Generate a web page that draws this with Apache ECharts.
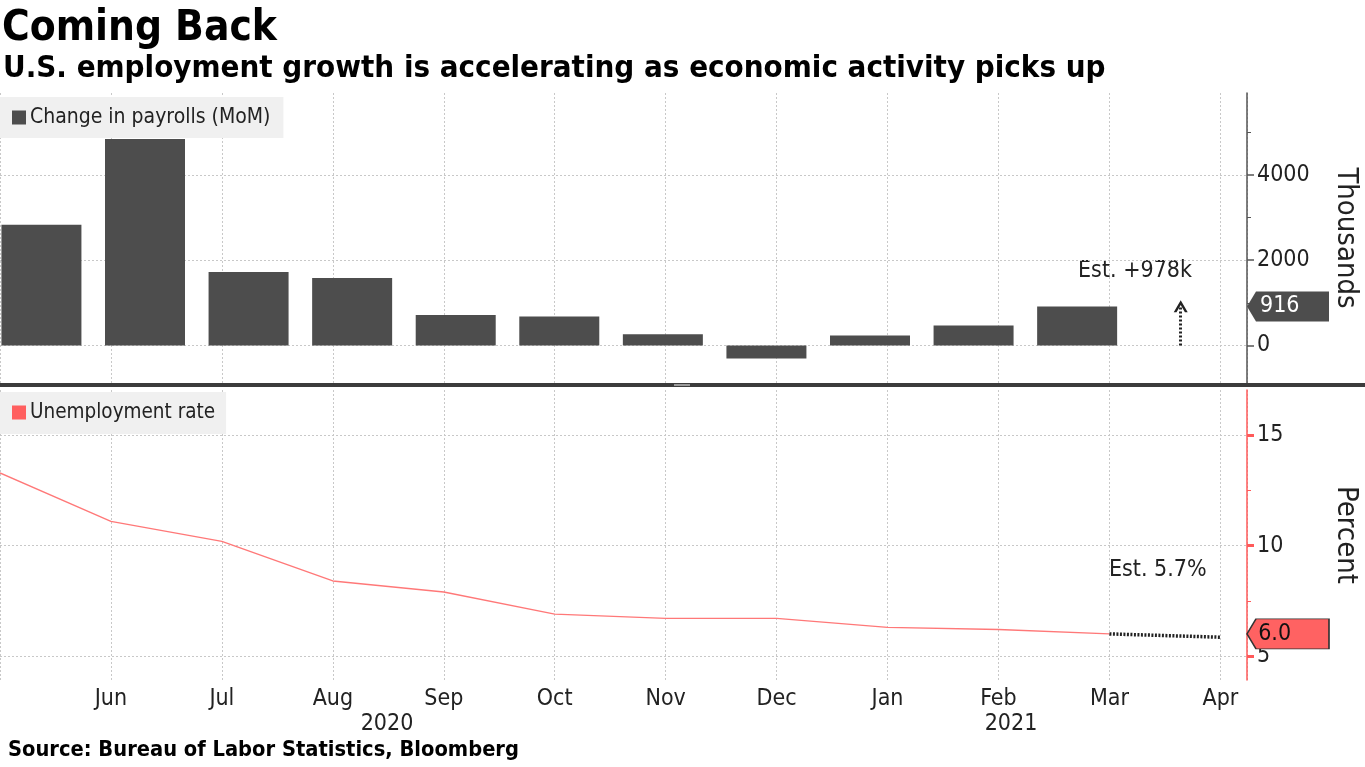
<!DOCTYPE html>
<html><head><meta charset="utf-8">
<script src="https://cdn.jsdelivr.net/npm/echarts@6/dist/echarts.min.js"></script>
<style>html,body{margin:0;padding:0;background:#fff}#c{width:1365px;height:767px}</style>
</head><body><div id="c"></div>
<script>
// ---- data ----
const MONTHS = ['May','Jun','Jul','Aug','Sep','Oct','Nov','Dec','Jan','Feb','Mar','Apr'];
const PAYROLLS = [2833, 4846, 1726, 1583, 716, 680, 264, -306, 233, 468, 916];
const PAYROLL_EST = 978;
const PAYROLL_ARROW_TOP = 920;
const UNEMPLOYMENT = [13.3, 11.1, 10.2, 8.4, 7.9, 6.9, 6.7, 6.7, 6.3, 6.2, 6.0];
const UNEMP_EST_PATH = 5.85;
const UNEMP_EST = 5.7;
const PAYROLL_TICKS = [0, 2000, 4000];
const PAYROLL_MINOR = [1000, 3000, 5000];
const RATE_TICKS = [5, 10, 15];
const RATE_MINOR = [7.5, 12.5];
const YEARS = ['2020', '2021'];

// ---- layout constants ----
const FONT = "'DejaVu Sans Condensed', 'DejaVu Sans', sans-serif";
const BOLD = "'DejaVu Sans Condensed', 'DejaVu Sans', sans-serif";
const BAR_MIN = -0.40, BAR_MAX = 11.64;
const M_MAX = 11.24;
const P_MIN = -880, P_MAX = 5923;
const R_MIN = 3.91, R_MAX = 17.06;
const GRID_LINE = {color: '#c8c8c8', type: [2, 2], width: 1};
const TAG_PATH = 'path://M0,15 L9,0 L82,0 L82,30 L9,30 Z';
const ARROW_PATH = 'path://M0,10 L5,0 L10,10 L8,10 L5,4 L2,10 Z';

const lastIdx = PAYROLLS.length - 1;
const chart = echarts.init(document.getElementById('c'), null, {renderer: 'canvas'});

function yAxisBase(grid, min, max) {
  return {gridIndex: grid, type: 'value', position: 'right', min: min, max: max, splitLine: {show: false}};
}

const option = {
  animation: false,
  backgroundColor: '#fff',
  textStyle: {fontFamily: FONT},
  grid: [
    {left: 0, right: 118, top: 93, height: 290, outerBoundsMode: 'none', containLabel: false},
    {left: 0, right: 118, top: 390, height: 290, outerBoundsMode: 'none', containLabel: false}
  ],
  legend: [
    {data: ['Change in payrolls (MoM)'], left: 0, top: 97, icon: 'rect', itemWidth: 14, itemHeight: 14, itemGap: 4,
     backgroundColor: '#f0f0f0', padding: [10, 13, 10, 12], selectedMode: false,
     textStyle: {fontSize: 21, color: '#222', fontFamily: FONT, lineHeight: 20, padding: [0, 0, 0, -1]}},
    {data: ['Unemployment rate'], left: 0, top: 392, icon: 'rect', itemWidth: 14, itemHeight: 14, itemGap: 4,
     backgroundColor: '#f0f0f0', padding: [10, 11, 11, 12], selectedMode: false,
     textStyle: {fontSize: 20.5, color: '#222', fontFamily: FONT, lineHeight: 20, padding: [0, 0, 0, -1]}}
  ],
  xAxis: [
    {gridIndex: 0, type: 'value', min: BAR_MIN, max: BAR_MAX, show: false},
    {gridIndex: 0, type: 'value', min: 0, max: M_MAX, interval: 1,
     axisLine: {show: false, onZero: false}, axisTick: {show: false}, axisLabel: {show: false},
     splitLine: {show: true, lineStyle: GRID_LINE}},
    {gridIndex: 1, type: 'value', min: 0, max: M_MAX, interval: 1,
     axisLine: {show: false, onZero: false}, axisTick: {show: false},
     axisLabel: {fontSize: 23, color: '#222', margin: 8, fontFamily: FONT,
       formatter: v => (Number.isInteger(v) && v > 0 && v < MONTHS.length) ? MONTHS[v] : ''},
     splitLine: {show: true, lineStyle: GRID_LINE}}
  ],
  yAxis: [
    Object.assign(yAxisBase(0, P_MIN, P_MAX), {
     axisLine: {show: true, onZero: false, lineStyle: {color: '#555', width: 1.5}},
     axisTick: {show: true, customValues: PAYROLL_TICKS, length: 7, lineStyle: {color: '#555', width: 1.5}},
     axisLabel: {customValues: PAYROLL_TICKS, fontSize: 23, color: '#222', margin: 10, fontFamily: FONT,
       formatter: v => String(v)},
     name: 'Thousands', nameLocation: 'middle', nameRotate: -90, nameGap: 84,
     nameTextStyle: {fontSize: 29, color: '#222', fontFamily: FONT}}),
    Object.assign(yAxisBase(0, P_MIN, P_MAX), {
     axisLine: {show: false, onZero: false},
     axisTick: {show: true, customValues: PAYROLL_MINOR, length: 4, lineStyle: {color: '#555', width: 1}},
     axisLabel: {show: false}}),
    Object.assign(yAxisBase(1, R_MIN, R_MAX), {
     axisLine: {show: true, onZero: false, lineStyle: {color: '#ff5a5a', width: 1.5}},
     axisTick: {show: true, customValues: RATE_TICKS, length: 7, lineStyle: {color: '#ff5a5a', width: 3}},
     axisLabel: {customValues: RATE_TICKS, fontSize: 23, color: '#222', margin: 10, fontFamily: FONT,
       formatter: v => String(v)},
     name: 'Percent', nameLocation: 'middle', nameRotate: -90, nameGap: 84,
     nameTextStyle: {fontSize: 29, color: '#222', fontFamily: FONT}}),
    Object.assign(yAxisBase(1, R_MIN, R_MAX), {
     axisLine: {show: false, onZero: false},
     axisTick: {show: true, customValues: RATE_MINOR, length: 4, lineStyle: {color: '#ff5a5a', width: 1}},
     axisLabel: {show: false}})
  ],
  series: [
    {
      name: 'Change in payrolls (MoM)', type: 'bar', xAxisIndex: 0, yAxisIndex: 0,
      data: PAYROLLS.map((v, i) => [i, v]), barWidth: 80, clip: false,
      itemStyle: {color: '#4d4d4d'}, z: 3,
      markLine: {silent: true, symbol: ['none', 'none'], label: {show: false},
        lineStyle: GRID_LINE, z: 1,
        data: PAYROLL_TICKS.map(v => ({yAxis: v}))},
      markPoint: {silent: true, symbol: TAG_PATH, symbolSize: [82, 30], symbolKeepAspect: false,
        symbolOffset: [41, 0], itemStyle: {color: '#4d4d4d'},
        label: {show: true, position: [13, 15], align: 'left', verticalAlign: 'middle',
          color: '#fff', fontSize: 23, fontFamily: FONT, formatter: p => String(p.value)},
        data: [{coord: [BAR_MAX, PAYROLLS[lastIdx]], value: PAYROLLS[lastIdx]}]}
    },
    {
      name: 'est-arrow', type: 'line', xAxisIndex: 0, yAxisIndex: 0, data: [], clip: false,
      markLine: {silent: true, symbol: ['none', ARROW_PATH], symbolSize: [14, 12],
        label: {show: false}, lineStyle: {color: '#222', type: [2, 2], width: 3},
        data: [[{coord: [PAYROLLS.length, 0]}, {coord: [PAYROLLS.length, PAYROLL_ARROW_TOP]}]]}
    },
    {
      name: 'Unemployment rate', type: 'line', xAxisIndex: 2, yAxisIndex: 2, clip: false,
      data: UNEMPLOYMENT.map((v, i) => [i, v]), showSymbol: false, symbol: 'none',
      lineStyle: {color: '#ff7878', width: 1.3}, itemStyle: {color: '#ff5f5f'}, z: 3,
      markLine: {silent: true, symbol: ['none', 'none'], label: {show: false},
        lineStyle: GRID_LINE, z: 1,
        data: RATE_TICKS.map(v => ({yAxis: v}))},
      markPoint: {silent: true, symbol: TAG_PATH, symbolSize: [82, 30], symbolKeepAspect: false,
        symbolOffset: [41, 0], itemStyle: {color: '#ff6262', borderColor: '#333', borderWidth: 1},
        label: {show: true, position: [12, 15], align: 'left', verticalAlign: 'middle',
          color: '#111', fontSize: 23, fontFamily: FONT, formatter: p => p.value.toFixed(1)},
        data: [{coord: [M_MAX, UNEMPLOYMENT[lastIdx]], value: UNEMPLOYMENT[lastIdx]}]}
    },
    {
      name: 'unemp-est', type: 'line', xAxisIndex: 2, yAxisIndex: 2,
      data: [[lastIdx, UNEMPLOYMENT[lastIdx]], [lastIdx + 1, UNEMP_EST_PATH]],
      showSymbol: false, symbol: 'none', lineStyle: {color: '#222', width: 3.5, type: [2, 1.5]}, z: 4
    }
  ],
  graphic: [
    {type: 'text', left: 2, top: 8, style: {text: 'Coming Back', fontFamily: BOLD, fontWeight: 'bold', fontSize: 42, fill: '#000'}},
    {type: 'text', left: 3, top: 53, style: {text: 'U.S. employment growth is accelerating as economic activity picks up', fontFamily: BOLD, fontWeight: 'bold', fontSize: 31, fill: '#000'}},
    {type: 'text', left: 8, top: 739, style: {text: 'Source: Bureau of Labor Statistics, Bloomberg', fontFamily: BOLD, fontWeight: 'bold', fontSize: 21.7, fill: '#000'}},
    {type: 'text', x: 1135, y: 271, style: {text: 'Est. +' + PAYROLL_EST + 'k', fontFamily: FONT, fontSize: 23, fill: '#222', align: 'center', verticalAlign: 'middle'}},
    {type: 'text', x: 1109, y: 570, style: {text: 'Est. ' + UNEMP_EST.toFixed(1) + '%', fontFamily: FONT, fontSize: 23, fill: '#222', align: 'left', verticalAlign: 'middle'}},
    {type: 'text', x: 387, y: 724, style: {text: YEARS[0], fontFamily: FONT, fontSize: 23, fill: '#222', align: 'center', verticalAlign: 'middle'}},
    {type: 'text', x: 1011, y: 724, style: {text: YEARS[1], fontFamily: FONT, fontSize: 23, fill: '#222', align: 'center', verticalAlign: 'middle'}},
    {type: 'rect', shape: {x: 0, y: 383, width: 1365, height: 4}, style: {fill: '#3c3c3c'}, z: 100},
    {type: 'rect', shape: {x: 674, y: 384, width: 16, height: 2}, style: {fill: '#9a9a9a'}, z: 101}
  ]
};
chart.setOption(option);
</script></body></html>
